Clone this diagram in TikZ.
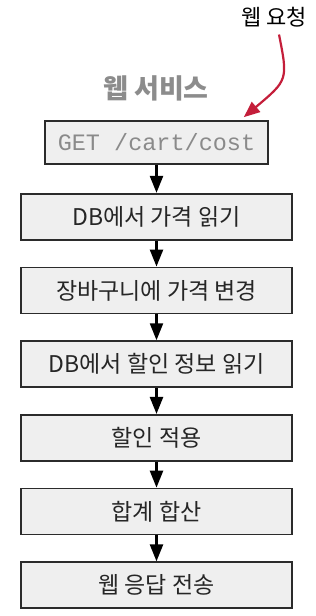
\documentclass[tikz,border=0pt]{standalone}
\usepackage{fontspec}
\setmainfont{Noto Sans CJK KR}
\setmonofont{Liberation Mono}
\usetikzlibrary{positioning,arrows.meta}
\definecolor{boxfill}{HTML}{EFEFEF}
\definecolor{boxline}{HTML}{2B2B2B}
\definecolor{titlegray}{HTML}{8C8C8C}
\definecolor{codegray}{HTML}{8A8A8A}
\definecolor{reqred}{HTML}{C41E3A}
\tikzset{
  stepbox/.style={draw=boxline, line width=1.7pt, fill=boxfill, minimum width=271pt,
    minimum height=46pt, inner sep=0pt, font=\fontsize{23}{26}\selectfont, text=black!85},
  flow/.style={line width=2.4pt, -{Triangle[width=13pt,length=17pt]}}
}
\begin{document}
\begin{tikzpicture}[x=1pt,y=1pt, node distance=26pt]
  \useasboundingbox (0,0) rectangle (316,-616);
  \node (req) at (274,-17) {\fontsize{22}{26}\selectfont 웹 요청};
  \node[text=titlegray, font=\bfseries\fontsize{27}{30}\selectfont] (title) at (156,-88) {웹 서비스};
  \node[stepbox, minimum width=223pt, minimum height=43pt, font=\ttfamily\fontsize{23.5}{26}\selectfont,
    text=codegray] (get) at (156.5,-142.5) {GET /cart/cost};
  \node[stepbox, below=28pt of get] (readprice) {DB에서 가격 읽기};
  \node[stepbox, below=of readprice] (setprice) {장바구니에 가격 변경};
  \node[stepbox, below=of setprice] (readdisc) {DB에서 할인 정보 읽기};
  \node[stepbox, below=of readdisc] (applydisc) {할인 적용};
  \node[stepbox, below=of applydisc] (sum) {합계 합산};
  \node[stepbox, below=of sum] (reply) {웹 응답 전송};
  \draw[flow] (get) -- (readprice);
  \draw[flow] (readprice) -- (setprice);
  \draw[flow] (setprice) -- (readdisc);
  \draw[flow] (readdisc) -- (applydisc);
  \draw[flow] (applydisc) -- (sum);
  \draw[flow] (sum) -- (reply);
  % incoming request
  \draw[reqred, line width=2.2pt, -{Triangle[width=13pt,length=16pt]}]
    ([xshift=5pt,yshift=-4pt]req.south) .. controls (288,-80) .. ([xshift=-25pt,yshift=3pt]get.north east);
\end{tikzpicture}
\end{document}
